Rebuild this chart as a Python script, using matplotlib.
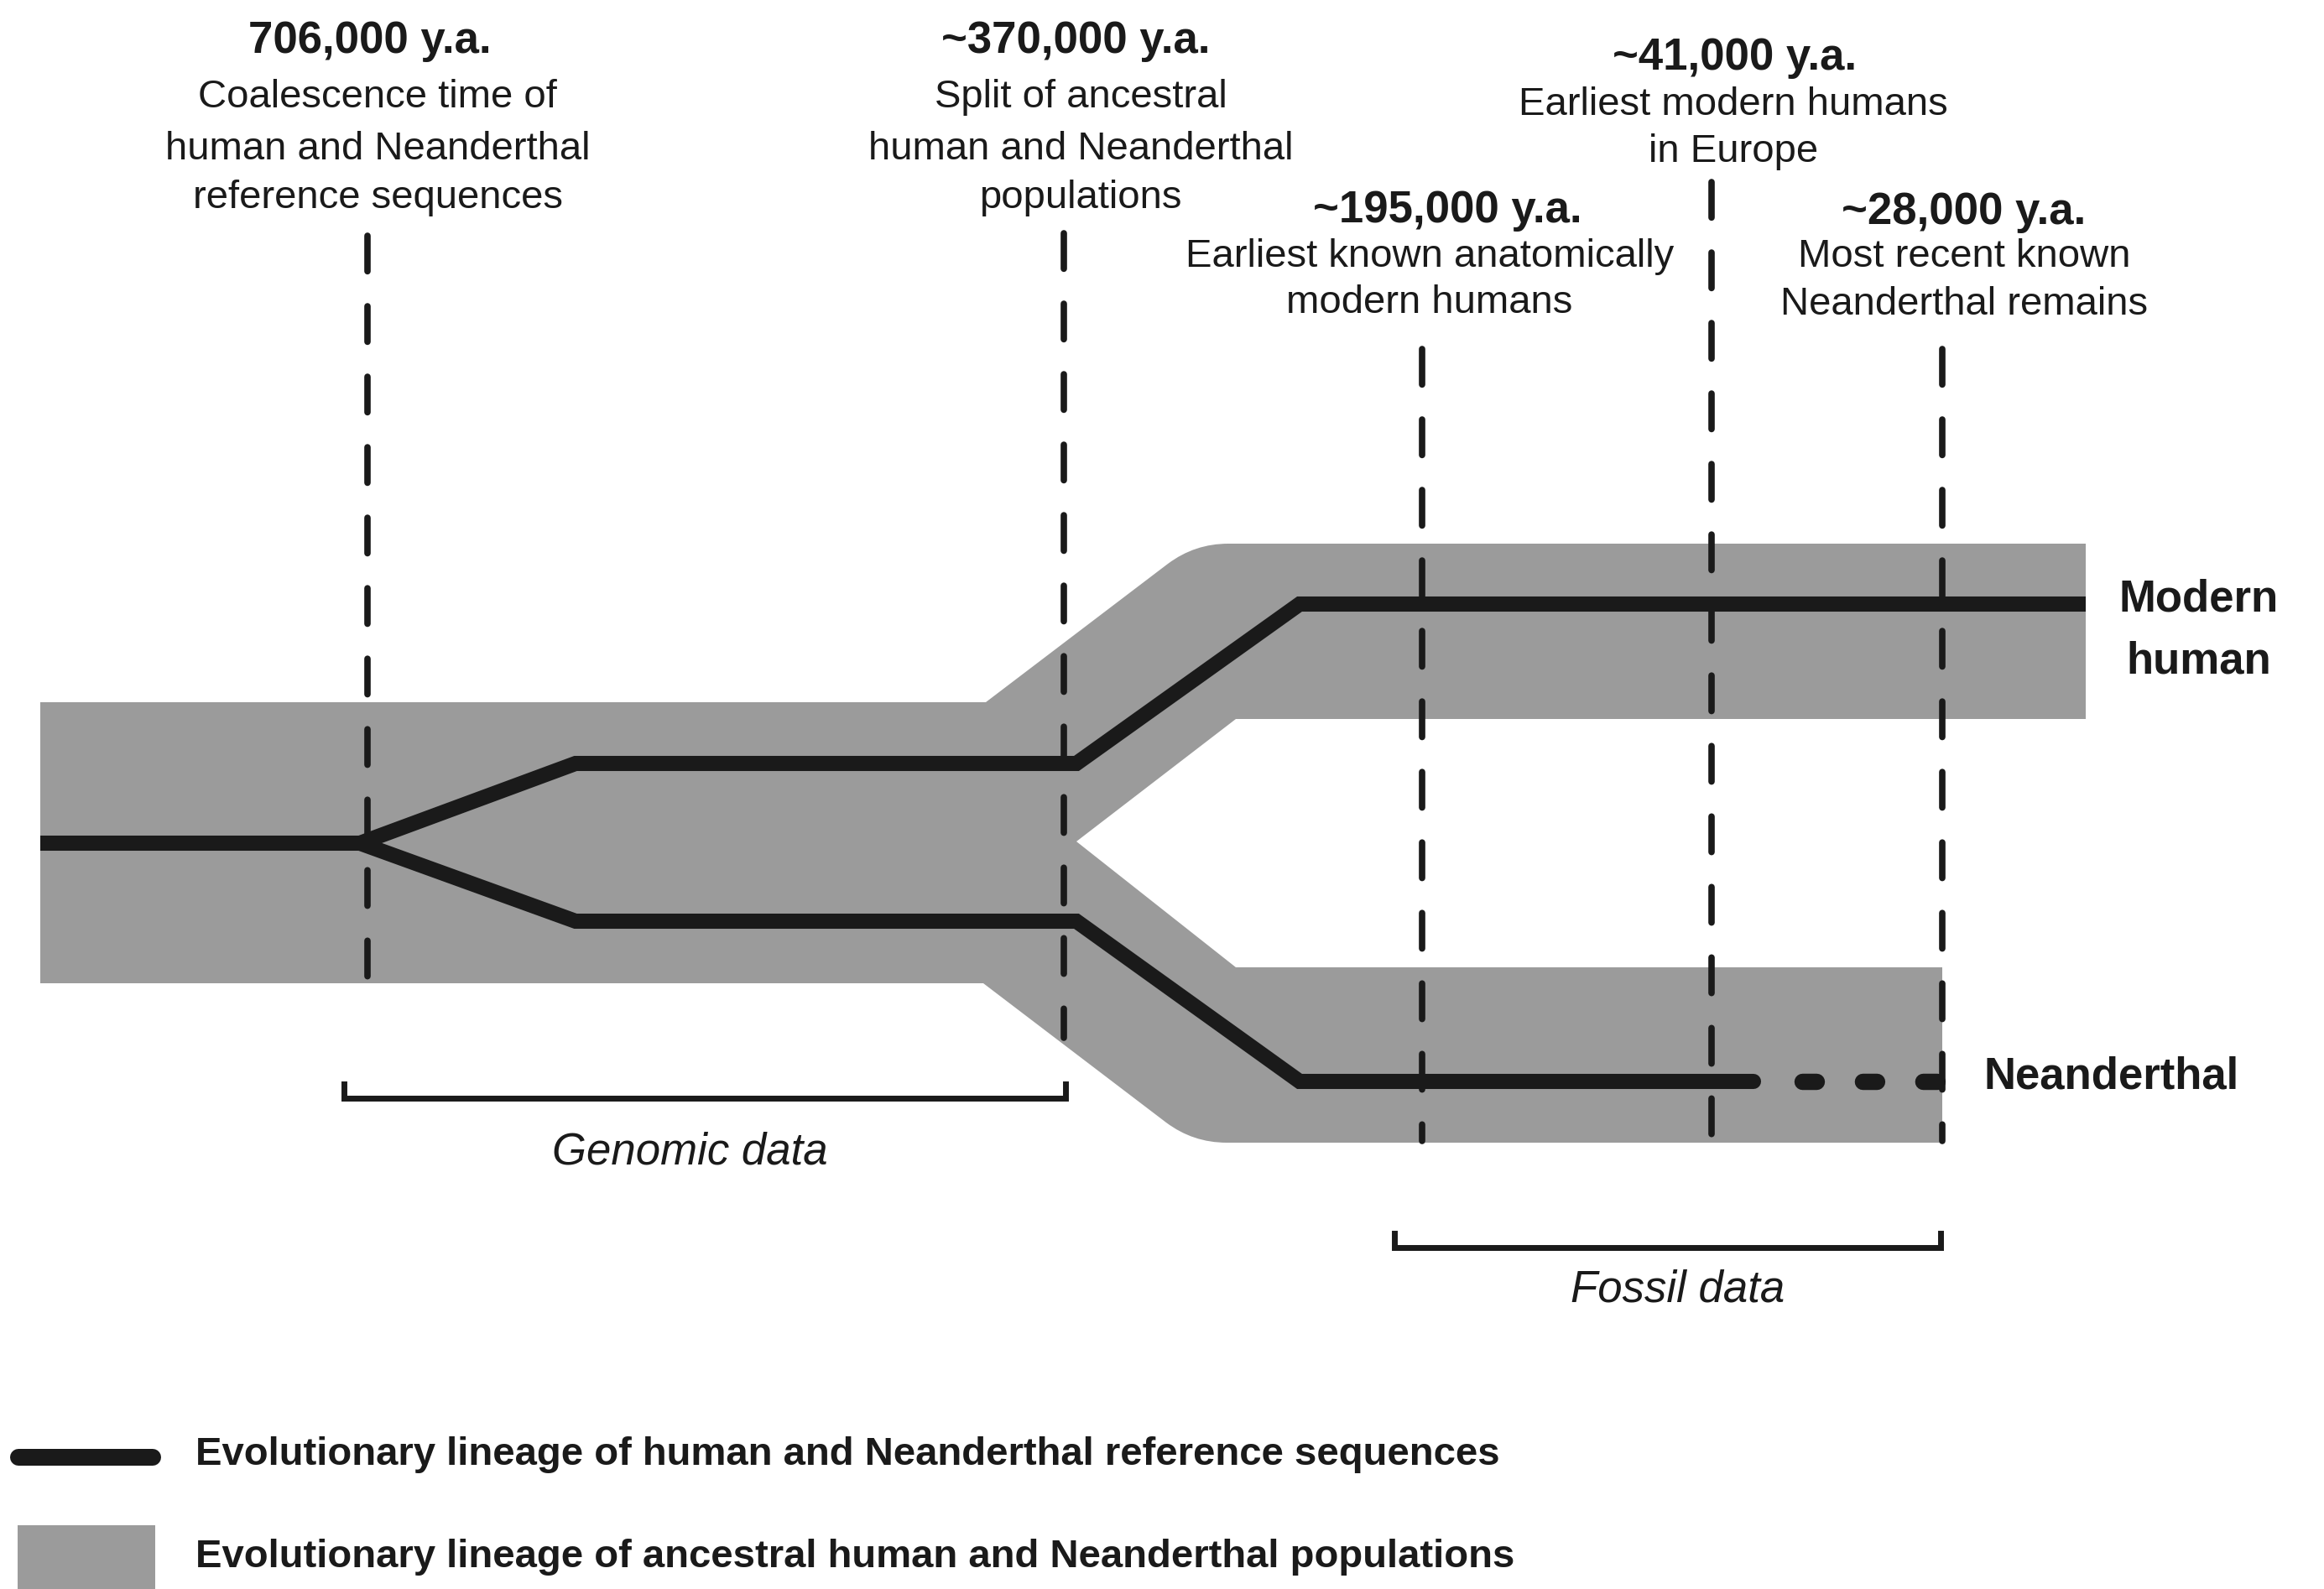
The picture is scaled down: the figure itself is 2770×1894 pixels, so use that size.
import matplotlib
matplotlib.use("Agg")
import matplotlib.pyplot as plt
from matplotlib.path import Path
from matplotlib.patches import PathPatch, Rectangle

plt.rcParams['font.family'] = ['Liberation Sans', 'DejaVu Sans']
plt.rcParams['lines.scale_dashes'] = False

# ---- data ----
event_dates = ['706,000 y.a.', '~370,000 y.a.', '~195,000 y.a.', '~41,000 y.a.', '~28,000 y.a.']
event_notes = [
    ['Coalescence time of', 'human and Neanderthal', 'reference sequences'],
    ['Split of ancestral', 'human and Neanderthal', 'populations'],
    ['Earliest known anatomically', 'modern humans'],
    ['Earliest modern humans', 'in Europe'],
    ['Most recent known', 'Neanderthal remains'],
]
branch_labels = ['Modern\nhuman', 'Neanderthal']
bracket_labels = ['Genomic data', 'Fossil data']
legend_labels = ['Evolutionary lineage of human and Neanderthal reference sequences',
                 'Evolutionary lineage of ancestral human and Neanderthal populations']

# ---- layout (pixel units of the drawing) ----
W, H = 2770, 1894
INK = '#1a1a1a'
GREY = '#9b9b9b'

event_x = [438, 1268, 1695, 2040, 2315]          # dashed time markers
event_top = [277, 274, 412, 213, 412]
event_bot = [1171, 1237, 1360, 1360, 1360]
title_x = [441, 1282, 1725, 2068, 2341]
note_x = [450, 1288, 1704, 2066, 2341]
title_base = [63, 63, 265, 83, 267]
note_base = [[128, 190, 248], [128, 190, 248], [318, 373], [137, 193], [318, 375]]

# reference-sequence lineages
human_x = [48, 429, 686, 1283, 1549, 2486]
human_y = [1005, 1005, 910, 910, 720, 720]
neand_x = [429, 686, 1283, 1549, 2090]
neand_y = [1005, 1098, 1098, 1289, 1289]
tail_x = [2148, 2315]
tail_y = [1289, 1289]

fig = plt.figure(figsize=(W / 100, H / 100), dpi=100)
ax = fig.add_axes([0, 0, 1, 1])
ax.set_xlim(0, W)
ax.set_ylim(H, 0)
ax.axis('off')

# population band
verts = [(48, 837), (1175, 837), (1392, 672), (1424, 648), (1464, 648),
         (2486, 648), (2486, 857), (1473, 857), (1283, 1003), (1473, 1153),
         (2315, 1153), (2315, 1362), (1462, 1362), (1422, 1362), (1390, 1338),
         (1172, 1172), (48, 1172), (48, 837)]
codes = [Path.MOVETO, Path.LINETO, Path.LINETO, Path.CURVE3, Path.CURVE3,
         Path.LINETO, Path.LINETO, Path.LINETO, Path.LINETO, Path.LINETO,
         Path.LINETO, Path.LINETO, Path.LINETO, Path.CURVE3, Path.CURVE3,
         Path.LINETO, Path.LINETO, Path.CLOSEPOLY]
ax.add_patch(PathPatch(Path(verts, codes), facecolor=GREY, edgecolor='none', zorder=1))

# dashed time markers
for x, y0, y1 in zip(event_x, event_top, event_bot):
    ax.plot([x, x], [y0 + 4, y1], color=INK, lw=5.5, dashes=(30.5, 30),
            dash_capstyle='round', zorder=2)

# lineages
ax.plot(human_x, human_y, color=INK, lw=13, solid_joinstyle='miter',
        solid_capstyle='butt', zorder=3)
ax.plot(neand_x, neand_y, color=INK, lw=13, solid_joinstyle='miter',
        solid_capstyle='round', zorder=3)
ax.plot(tail_x, tail_y, color=INK, lw=14, dashes=(12.2, 39.6),
        dash_capstyle='round', zorder=3)

# event annotations
for i, date in enumerate(event_dates):
    ax.text(title_x[i], title_base[i], date, fontsize=38, fontweight='bold',
            ha='center', va='baseline', color=INK)
    for line, yb in zip(event_notes[i], note_base[i]):
        ax.text(note_x[i], yb, line, fontsize=34, ha='center', va='baseline', color=INK)

# branch labels
for line, yb in zip(branch_labels[0].split('\n'), [728, 802]):
    ax.text(2621, yb, line, fontsize=38, fontweight='bold', ha='center',
            va='baseline', color=INK)
ax.text(2364, 1297, branch_labels[1], fontsize=38, fontweight='bold',
        ha='left', va='baseline', color=INK)

# data brackets
for (x0, x1, yb), lab, (tx, ty) in zip([(410, 1270, 1309), (1662, 2313, 1487)],
                                       bracket_labels, [(822, 1387), (2000, 1551)]):
    ax.plot([x0, x0, x1, x1], [yb - 17, yb, yb, yb - 17], color=INK, lw=5,
            solid_joinstyle='miter')
    ax.text(tx, ty, lab, fontsize=38, style='italic', ha='center', va='baseline', color=INK)

# legend
ax.plot([22, 182], [1737, 1737], color=INK, lw=14.4, solid_capstyle='round')
ax.add_patch(Rectangle((21, 1818), 164, 120, facecolor=GREY, edgecolor='none'))
ax.text(233, 1746, legend_labels[0], fontsize=34, fontweight='bold',
        ha='left', va='baseline', color=INK)
ax.text(233, 1868, legend_labels[1], fontsize=34, fontweight='bold',
        ha='left', va='baseline', color=INK)

fig.savefig('out.png', dpi=100)
